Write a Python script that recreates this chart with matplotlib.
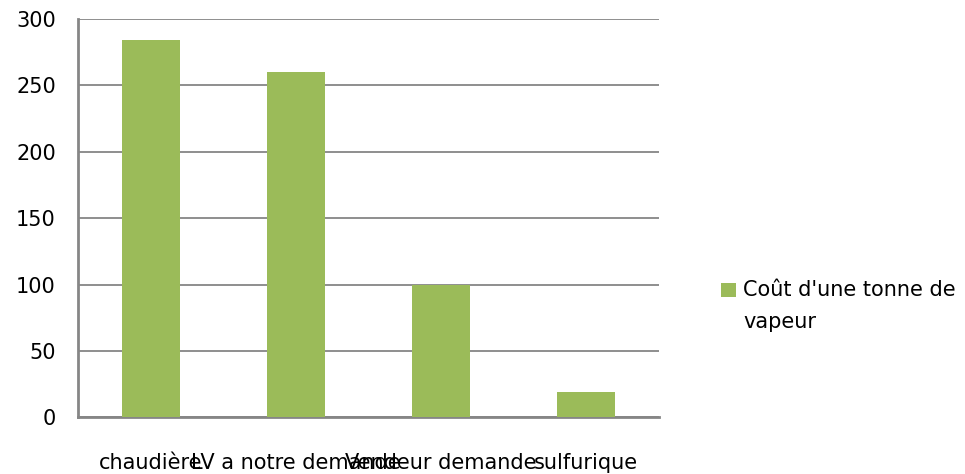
import matplotlib
matplotlib.use("Agg")
import matplotlib.pyplot as plt
from matplotlib.patches import Rectangle

categories = ["chaudière", "LV a notre demande", "Vendeur demande", "sulfurique"]
values = [284, 260, 100, 19]
series_name = "Coût d'une tonne de\nvapeur"
yticks = [0, 50, 100, 150, 200, 250, 300]

plt.rcParams['font.family'] = ['DejaVu Sans']
W, H = 965, 474
fig = plt.figure(figsize=(W / 100, H / 100), dpi=100)
ax = fig.add_axes([78 / W, (H - 417.3) / H, (659 - 78) / W, (417.3 - 19) / H])

green = "#9BBB59"
grid_c = "#868686"
x = list(range(len(categories)))
ax.bar(x, values, width=0.4, color=green, zorder=3)

ax.set_xlim(-0.5, len(categories) - 0.5)
ax.set_ylim(0, 300)
ax.set_yticks(yticks)
ax.set_yticklabels([str(v) for v in yticks])
ax.set_xticks(x)
ax.set_xticklabels(categories)
ax.yaxis.grid(True, color=grid_c, linewidth=1.3, zorder=0)
ax.tick_params(axis='y', length=0, pad=16, labelsize=15, colors='black')
ax.tick_params(axis='x', length=0, pad=26, labelsize=15, colors='black')

for s in ['top', 'right']:
    ax.spines[s].set_visible(False)
ax.spines['left'].set_color(grid_c)
ax.spines['left'].set_linewidth(2)
ax.spines['bottom'].set_color(grid_c)
ax.spines['bottom'].set_linewidth(2)

# legend
fig.patches.append(Rectangle((721 / W, (H - 297) / H), 15 / W, 14 / H,
                             transform=fig.transFigure, facecolor=green,
                             edgecolor='none'))
fig.text(743 / W, (H - 280) / H, series_name, ha='left', va='top',
         fontsize=15, linespacing=1.75, color='black')

fig.savefig("out.png", dpi=100)
